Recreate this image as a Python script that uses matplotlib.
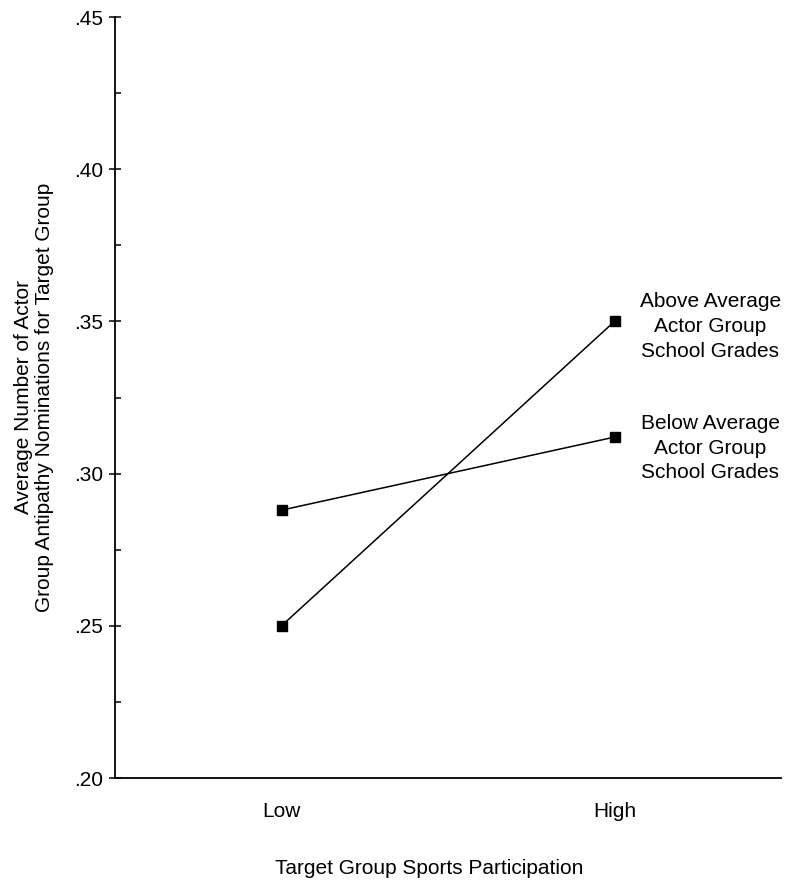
import matplotlib
matplotlib.use("Agg")
import matplotlib.pyplot as plt
from matplotlib.ticker import MultipleLocator, FixedLocator

plt.rcParams["font.family"] = ["Liberation Sans", "DejaVu Sans"]

# data
categories = ["Low", "High"]
above_avg = [0.250, 0.350]
below_avg = [0.288, 0.312]
series_labels = ["Above Average\nActor Group\nSchool Grades",
                 "Below Average\nActor Group\nSchool Grades"]
label_dy = [-3.6, -7.9]   # vertical nudge of the end labels, points
y_ticks = [0.20, 0.25, 0.30, 0.35, 0.40, 0.45]
y_ticklabels = [".20", ".25", ".30", ".35", ".40", ".45"]

FS = 15

fig = plt.figure(figsize=(8, 8.92), dpi=100)
ax = fig.add_axes([0.14375, 0.1278, 0.8325, 0.8531])

x = list(range(len(categories)))
for vals in (above_avg, below_avg):
    ax.plot(x, vals, color="black", lw=1.1, marker="s", ms=7.5,
            markerfacecolor="black", markeredgecolor="black")

# series labels to the right of the "High" points
for vals, lab, dy in zip((above_avg, below_avg), series_labels, label_dy):
    ax.annotate(lab, xy=(x[-1], vals[-1]), xytext=(69, dy),
                textcoords="offset points", ha="center", va="center",
                fontsize=FS, linespacing=1.38)

ax.set_xlim(-0.5, 1.5)
ax.set_ylim(0.20, 0.45)
ax.set_xticks(x)
ax.set_xticklabels(categories, fontsize=FS)
ax.tick_params(axis="x", length=0, pad=17)

ax.yaxis.set_major_locator(FixedLocator(y_ticks))
ax.set_yticklabels(y_ticklabels, fontsize=FS)
ax.yaxis.set_minor_locator(MultipleLocator(0.025))
ax.tick_params(axis="y", which="major", direction="inout", length=9,
               width=1.1, pad=4)
ax.tick_params(axis="y", which="minor", direction="in", length=4.5,
               width=1.1)

ax.spines[["top", "right"]].set_visible(False)
for s in ("left", "bottom"):
    ax.spines[s].set_linewidth(1.3)

fig.text(34 / 800, 1 - 397 / 892,
         "Average Number of Actor\nGroup Antipathy Nominations for Target Group",
         rotation=90, ha="center", va="center", fontsize=FS, linespacing=1.15)
fig.text(429 / 800, 1 - 869 / 892, "Target Group Sports Participation",
         ha="center", va="center", fontsize=FS)

fig.savefig("out.png", dpi=100)
